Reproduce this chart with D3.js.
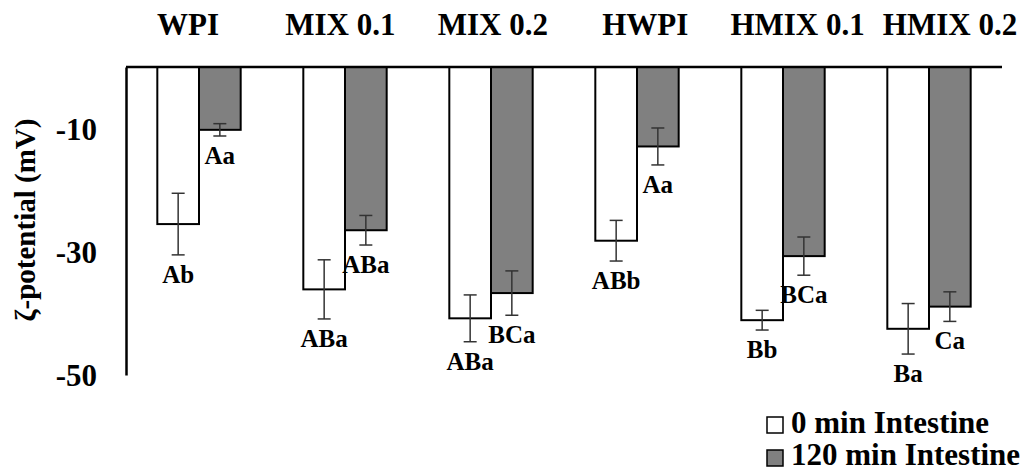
<!DOCTYPE html>
<html><head><meta charset="utf-8">
<script src="https://cdn.jsdelivr.net/npm/d3@7"></script>
<style>
body{margin:0;background:#fff;}
text{font-family:"Liberation Serif","Times New Roman",serif;font-weight:bold;fill:#000;}
</style></head>
<body><svg id="chart" width="1029" height="472"></svg>
<script>
const categories = ["WPI","MIX 0.1","MIX 0.2","HWPI","HMIX 0.1","HMIX 0.2"];
const seriesNames = ["0 min Intestine","120 min Intestine"];
const values0 = [-25.5,-36.1,-40.8,-28.2,-41.1,-42.5];
const values120 = [-10.2,-26.5,-36.7,-12.9,-30.7,-38.9];
const err0 = [5.0,4.8,3.8,3.3,1.6,4.1];
const err120 = [1.0,2.4,3.6,3.0,3.1,2.4];
const letters0 = ["Ab","ABa","ABa","ABb","Bb","Ba"];
const letters120 = ["Aa","ABa","BCa","Aa","BCa","Ca"];
const yTicks = [-10,-30,-50];

const svg = d3.select("#chart");
const mLeft = 126, mRight = 1002, mTop = 67, mBottom = 375;

const y = d3.scaleLinear().domain([0,-50]).range([mTop,mBottom]);
const x0 = d3.scaleBand().domain(categories).range([mLeft,mRight]).paddingInner(0.429).paddingOuter(0.2145);
const x1 = d3.scaleBand().domain([0,1]).range([0,x0.bandwidth()]);
const titleX = d3.scalePoint().domain(categories).range([188,950]);
const colors = ["#ffffff","#808080"];

const data = categories.map((c,i)=>[
  {c, s:0, v:values0[i], e:err0[i], l:letters0[i]},
  {c, s:1, v:values120[i], e:err120[i], l:letters120[i]}
]).flat();

// bars
svg.append("g").selectAll("rect").data(data).join("rect")
  .attr("x", d=>x0(d.c)+x1(d.s))
  .attr("y", y(0))
  .attr("width", x1.bandwidth())
  .attr("height", d=>y(d.v)-y(0))
  .attr("fill", d=>colors[d.s])
  .attr("stroke","#000").attr("stroke-width",2);

// error bars
const eg = svg.append("g").attr("stroke","#333").attr("stroke-width",1.5);
data.forEach(d=>{
  const cx = x0(d.c)+x1(d.s)+x1.bandwidth()/2;
  const y1 = y(d.v+d.e), y2 = y(d.v-d.e);
  eg.append("line").attr("x1",cx).attr("x2",cx).attr("y1",y1).attr("y2",y2);
  eg.append("line").attr("x1",cx-6.5).attr("x2",cx+6.5).attr("y1",y1).attr("y2",y1);
  eg.append("line").attr("x1",cx-6.5).attr("x2",cx+6.5).attr("y1",y2).attr("y2",y2);
});

// letters
svg.append("g").selectAll("text").data(data).join("text")
  .attr("x", d=>x0(d.c)+x1(d.s)+x1.bandwidth()/2)
  .attr("y", d=>y(d.v-d.e)+28)
  .attr("text-anchor","middle")
  .style("font-size","25px")
  .text(d=>d.l);

// axes
svg.append("line").attr("x1",mLeft).attr("x2",mRight).attr("y1",y(0)).attr("y2",y(0))
  .attr("stroke","#000").attr("stroke-width",2.5);
const ya = svg.append("g").attr("transform",`translate(${mLeft},0)`)
  .call(d3.axisLeft(y).tickValues(yTicks).tickSize(0).tickPadding(29).tickFormat(d=>String(d)));
ya.select(".domain").attr("stroke","#000").attr("stroke-width",2.5);
ya.selectAll("text").style("font-size","31px").style("font-family","'Liberation Serif',serif").style("font-weight","bold").attr("dy","0.35em");

// y label
svg.append("text").attr("transform","translate(35,220) rotate(-90)")
  .attr("text-anchor","middle").style("font-size","29px").text("ζ-potential (mV)");

// category titles
svg.append("g").selectAll("text").data(categories).join("text")
  .attr("x", d=>titleX(d)).attr("y",35)
  .attr("text-anchor","middle").style("font-size","31px").text(d=>d);

// legend
const lg = svg.append("g");
seriesNames.forEach((n,i)=>{
  lg.append("rect").attr("x",767).attr("y",417+i*33).attr("width",16).attr("height",16)
    .attr("fill",colors[i]).attr("stroke","#000").attr("stroke-width",1.5);
  lg.append("text").attr("x",791).attr("y",433+i*32).style("font-size","31px").text(n);
});
</script></body></html>
